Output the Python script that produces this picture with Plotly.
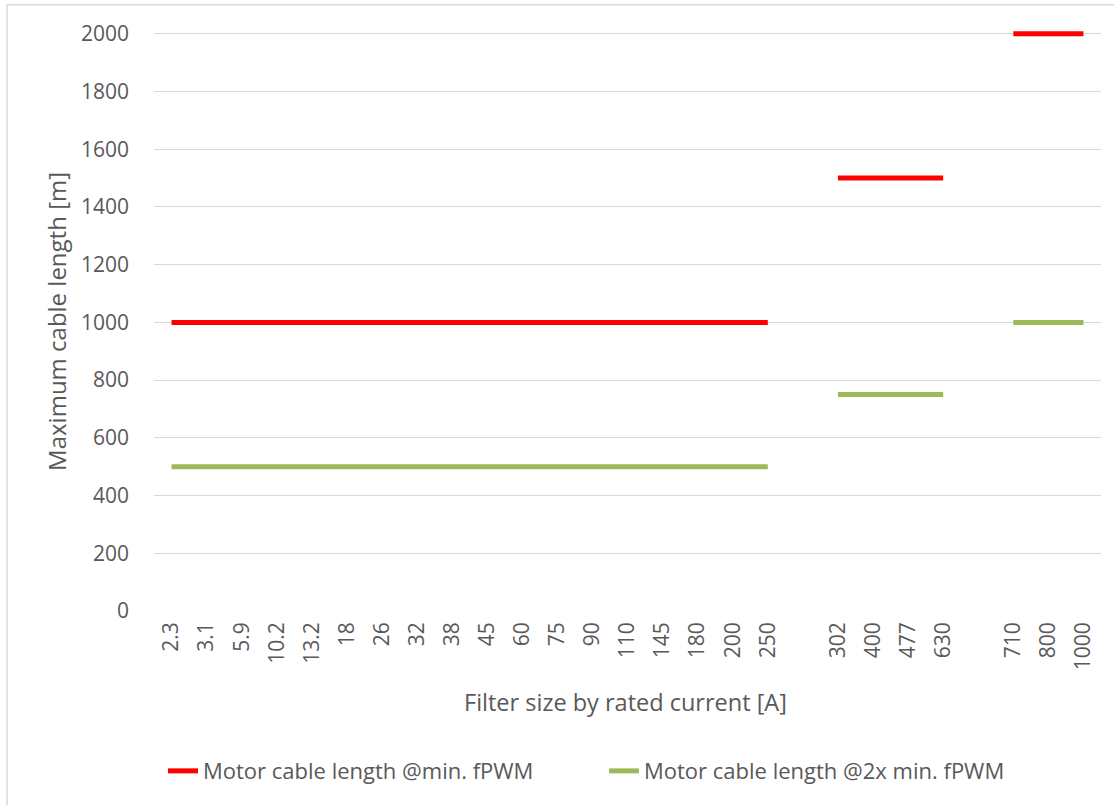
import plotly.graph_objects as go

categories = ["2.3", "3.1", "5.9", "10.2", "13.2", "18", "26", "32", "38", "45",
              "60", "75", "90", "110", "145", "180", "200", "250", " ",
              "302", "400", "477", "630", "  ", "710", "800", "1000"]
red_values = [1000] * 18 + [None] + [1500] * 4 + [None] + [2000] * 3
green_values = [500] * 18 + [None] + [750] * 4 + [None] + [1000] * 3
red_name = "Motor cable length @min. fPWM"
green_name = "Motor cable length @2x min. fPWM"

FONT = "Open Sans, Liberation Sans, sans-serif"
TXT = "#595959"

fig = go.Figure()
fig.add_trace(go.Scatter(x=categories, y=red_values, mode="lines", name=red_name,
                         line=dict(color="#FF0000", width=5), connectgaps=False))
fig.add_trace(go.Scatter(x=categories, y=green_values, mode="lines", name=green_name,
                         line=dict(color="#9BBB59", width=5), connectgaps=False))

W, H = 1114, 805
L, R, B = 154, 13, 194
YMAX = 2020
ph = 577 * YMAX / 2000
T = H - B - ph
pw = W - L - R

def px(x):
    return (x - L) / pw

def py(y):
    return (H - B - y) / ph

fig.update_layout(
    width=W, height=H,
    margin=dict(l=L, r=R, t=T, b=B, pad=0, autoexpand=False),
    paper_bgcolor="white", plot_bgcolor="white",
    font=dict(family=FONT, color=TXT, size=20),
    showlegend=True,
    legend=dict(orientation="h", x=px(163), xanchor="left", y=py(771), yanchor="middle",
                font=dict(size=22, color=TXT), entrywidth=396, entrywidthmode="pixels",
                itemwidth=30),
    xaxis=dict(type="category", categoryorder="array", categoryarray=categories,
               range=[-0.5, len(categories) - 0.5],
               tickangle=-90, tickfont=dict(size=21, color=TXT), showgrid=False,
               showline=False, zeroline=False, ticks="", ticklen=0, ticklabelstandoff=6),
    yaxis=dict(range=[0, YMAX], tickvals=list(range(0, 2001, 200)),
               tickfont=dict(size=21, color=TXT), gridcolor="#D9D9D9", gridwidth=1,
               showline=False, zeroline=False, ticks="", ticklabelstandoff=24),
    annotations=[
        dict(text="Maximum cable length [m]", xref="paper", yref="paper",
             x=px(57), y=py(322), textangle=-90, showarrow=False,
             font=dict(size=24, color=TXT), xanchor="center", yanchor="middle"),
        dict(text="Filter size by rated current [A]", xref="paper", yref="paper",
             x=px(625), y=py(702), showarrow=False,
             font=dict(size=23.5, color=TXT), xanchor="center", yanchor="middle"),
    ],
    shapes=[
        dict(type="line", xref="paper", yref="paper", x0=px(7), x1=px(1130), y0=py(5), y1=py(5),
             line=dict(color="#D9D9D9", width=1.5)),
        dict(type="line", xref="paper", yref="paper", x0=px(7), x1=px(7), y0=py(5), y1=py(820),
             line=dict(color="#D9D9D9", width=1.5)),
    ],
)

fig.write_html("out.html", config={"displayModeBar": False},
               post_script="document.body.style.margin='0';")
